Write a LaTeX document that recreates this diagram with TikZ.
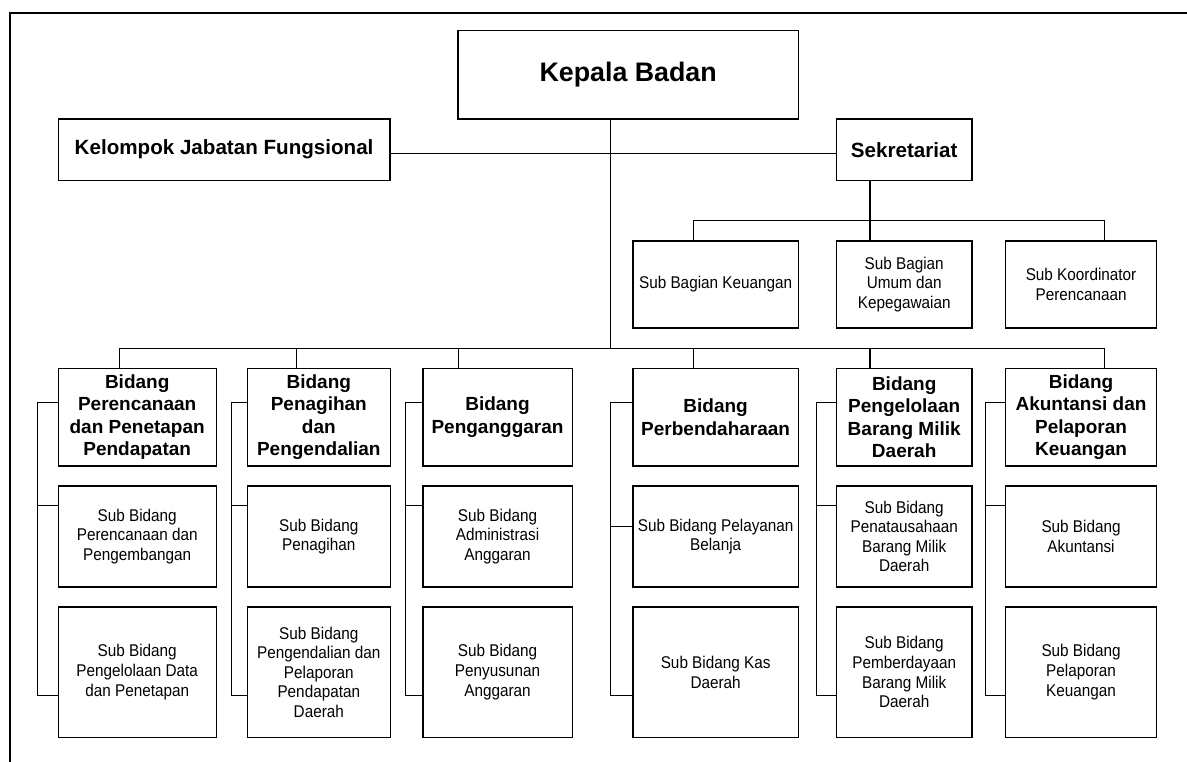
\documentclass[tikz,border=0pt]{standalone}
\usepackage{fontspec}
\setmainfont{Liberation Sans}
\newfontfamily\subfont[FakeStretch=0.9]{Liberation Sans}
\begin{document}
\begin{tikzpicture}[x=1pt,y=-1pt,
  box/.style={draw, line width=1.2pt, inner sep=1pt, outer sep=0pt, align=center, anchor=north west},
  conn/.style={line width=1pt},
  thickconn/.style={line width=2pt},
  bid/.style={box, font=\bfseries\fontsize{19}{22.3}\selectfont},
  sub/.style={box, font=\subfont\fontsize{17}{19.6}\selectfont},
  top/.style={box, font=\bfseries\fontsize{20.6}{24}\selectfont}]
\useasboundingbox (0,0) rectangle (1187,762);
% frame (only top and left edges visible)
\draw[line width=2pt] (9.6,762) -- (9.6,12.7) -- (1187,12.7);

% top level
\node[box, font=\bfseries\fontsize{26.8}{30}\selectfont, minimum width=340.3pt, minimum height=88.3pt] (kep) at (458,30.7) {Kepala Badan};
\node[top, minimum width=331.8pt, minimum height=61.3pt] (kjf) at (58.2,119) {Kelompok Jabatan Fungsional};
\node[top, minimum width=135.6pt, minimum height=61.3pt] (sek) at (836.4,119) {Sekretariat};

% sekretariat children
\node[sub, minimum width=165.3pt, minimum height=87pt] (keu) at (633,241) {Sub Bagian Keuangan};
\node[sub, minimum width=135.6pt, minimum height=87pt] (umum) at (836.4,241) {Sub Bagian\\Umum dan\\Kepegawaian};
\node[sub, minimum width=150.5pt, minimum height=87pt] (kor) at (1005.8,241) {Sub Koordinator\\Perencanaan};

% bidang row
\node[bid, minimum width=158pt, minimum height=97.7pt] (b1) at (58.2,368.3) {Bidang\\Perencanaan\\dan Penetapan\\Pendapatan};
\node[bid, minimum width=143.2pt, minimum height=97.7pt] (b2) at (247.2,368.3) {Bidang\\Penagihan\\dan\\Pengendalian};
\node[bid, minimum width=149.2pt, minimum height=97.7pt] (b3) at (422.9,368.3) {Bidang\\Penganggaran};
\node[bid, minimum width=165.3pt, minimum height=97.7pt] (b4) at (633,368.3) {Bidang\\Perbendaharaan};
\node[bid, minimum width=135.6pt, minimum height=97.7pt] (b5) at (836.4,368.3) {Bidang\\Pengelolaan\\Barang Milik\\Daerah};
\node[bid, minimum width=150.5pt, minimum height=97.7pt] (b6) at (1005.8,368.3) {Bidang\\Akuntansi dan\\Pelaporan\\Keuangan};

% sub bidang row 1
\node[sub, minimum width=158pt, minimum height=101pt] (s1a) at (58.2,486) {Sub Bidang\\Perencanaan dan\\Pengembangan};
\node[sub, minimum width=143.2pt, minimum height=101pt] (s2a) at (247.2,486) {Sub Bidang\\Penagihan};
\node[sub, minimum width=149.2pt, minimum height=101pt] (s3a) at (422.9,486) {Sub Bidang\\Administrasi\\Anggaran};
\node[sub, minimum width=165.3pt, minimum height=101pt] (s4a) at (633,486) {Sub Bidang Pelayanan\\Belanja};
\node[sub, minimum width=135.6pt, minimum height=101pt] (s5a) at (836.4,486) {Sub Bidang\\Penatausahaan\\Barang Milik\\Daerah};
\node[sub, minimum width=150.5pt, minimum height=101pt] (s6a) at (1005.8,486) {Sub Bidang\\Akuntansi};

% sub bidang row 2
\node[sub, minimum width=158pt, minimum height=130.3pt] (s1b) at (58.2,607) {Sub Bidang\\Pengelolaan Data\\dan Penetapan};
\node[sub, minimum width=143.2pt, minimum height=130.3pt] (s2b) at (247.2,607) {Sub Bidang\\Pengendalian dan\\Pelaporan\\Pendapatan\\Daerah};
\node[sub, minimum width=149.2pt, minimum height=130.3pt] (s3b) at (422.9,607) {Sub Bidang\\Penyusunan\\Anggaran};
\node[sub, minimum width=165.3pt, minimum height=130.3pt] (s4b) at (633,607) {Sub Bidang Kas\\Daerah};
\node[sub, minimum width=135.6pt, minimum height=130.3pt] (s5b) at (836.4,607) {Sub Bidang\\Pemberdayaan\\Barang Milik\\Daerah};
\node[sub, minimum width=150.5pt, minimum height=130.3pt] (s6b) at (1005.8,607) {Sub Bidang\\Pelaporan\\Keuangan};

% junction coordinates
\coordinate (trunk) at (610.3,348.3);
\coordinate (mid) at (610.3,153.3);
\coordinate (sekh) at (870,220.7);
\coordinate (sekl) at (693.6,220.7);
\coordinate (sekr) at (1104.8,220.7);
\coordinate (d1) at (119.4,348.3);
\coordinate (d2) at (296.2,348.3);
\coordinate (d3) at (458.5,348.3);
\coordinate (d4) at (693.6,348.3);
\coordinate (d5) at (870,348.3);
\coordinate (d6) at (1104.8,348.3);

% top connectors
\draw[conn] (kep.south -| trunk) -- (trunk);
\draw[conn] (kjf.east |- mid) -- (sek.west |- mid);
\draw[thickconn] (sek.south -| sekh) -- (umum.north -| sekh);
\draw[conn] (keu.north -| sekl) -- (sekl) -- (sekr) -- (kor.north -| sekr);

% bidang drops
\draw[conn] (d1) -- (d6);
\draw[conn] (d1) -- (b1.north -| d1);
\draw[conn] (d2) -- (b2.north -| d2);
\draw[conn] (d3) -- (b3.north -| d3);
\draw[conn] (d4) -- (b4.north -| d4);
\draw[thickconn] (d5) -- (b5.north -| d5);
\draw[conn] (d6) -- (b6.north -| d6);

% brackets
\coordinate (t1) at (37.1,402.3);  \coordinate (m1) at (37.1,505);   \coordinate (e1) at (37.1,695);
\coordinate (t2) at (231.2,402.3); \coordinate (m2) at (231.2,505);  \coordinate (e2) at (231.2,695);
\coordinate (t3) at (405.7,402.3); \coordinate (m3) at (405.7,505);  \coordinate (e3) at (405.7,695);
\coordinate (t4) at (610.2,402.3); \coordinate (m4) at (610.2,526.7);\coordinate (e4) at (610.2,695);
\coordinate (t5) at (816.6,402.3); \coordinate (m5) at (816.6,505);  \coordinate (e5) at (816.6,695);
\coordinate (t6) at (985.3,402.3); \coordinate (m6) at (985.3,505);  \coordinate (e6) at (985.3,695);

\draw[conn] (b1.west |- t1) -- (t1) -- (e1) -- (s1b.west |- e1);
\draw[conn] (m1) -- (s1a.west |- m1);
\draw[conn] (b2.west |- t2) -- (t2) -- (e2) -- (s2b.west |- e2);
\draw[conn] (m2) -- (s2a.west |- m2);
\draw[conn] (b3.west |- t3) -- (t3) -- (e3) -- (s3b.west |- e3);
\draw[conn] (m3) -- (s3a.west |- m3);
\draw[conn] (b4.west |- t4) -- (t4) -- (e4) -- (s4b.west |- e4);
\draw[conn] (m4) -- (s4a.west |- m4);
\draw[conn] (b5.west |- t5) -- (t5) -- (e5) -- (s5b.west |- e5);
\draw[conn] (m5) -- (s5a.west |- m5);
\draw[conn] (b6.west |- t6) -- (t6) -- (e6) -- (s6b.west |- e6);
\draw[conn] (m6) -- (s6a.west |- m6);
\end{tikzpicture}
\end{document}
